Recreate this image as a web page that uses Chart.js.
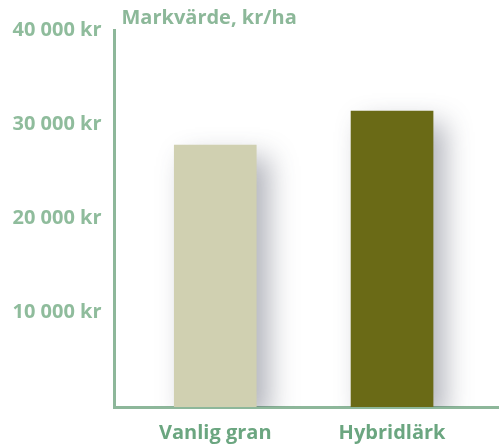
<!DOCTYPE html>
<html>
<head>
<meta charset="utf-8">
<script src="https://cdn.jsdelivr.net/npm/chart.js@4/dist/chart.umd.min.js"></script>
<style>
  body { margin: 0; background: #fff; }
</style>
</head>
<body>
<canvas id="markChart" width="499" height="444"></canvas>
<script>
// data
var categories = ["Vanlig gran", "Hybridlärk"];
var values = [27800, 31400];
var barColors = ["#d0d0b1", "#6a6a16"];
var yTicks = [0, 10000, 20000, 30000, 40000];
var yTitle = "Markvärde, kr/ha";

var axisGreen = "#8db79a";

// skugga till höger om staplarna
var shadowPlugin = {
    id: 'barShadow',
    beforeDatasetsDraw: function(chart){
        var c = chart.ctx;
        c.save();
        c.shadowColor = 'rgba(60,65,85,0.4)';
        c.shadowBlur = 26;
        c.shadowOffsetX = 12;
        c.shadowOffsetY = 12;
    },
    afterDatasetsDraw: function(chart){
        chart.ctx.restore();
    }
};

// rubrik vid y-axeln
var titlePlugin = {
    id: 'axisTitle',
    afterDraw: function(chart){
        var c = chart.ctx;
        c.save();
        c.font = 'bold 20px "Open Sans"';
        c.fillStyle = '#8cb899';
        c.textBaseline = 'middle';
        c.textAlign = 'left';
        c.fillText(yTitle, chart.chartArea.left + 7, 18);
        c.restore();
    }
};

var data = {
    datasets: [{
        data: categories.map(function(c, i){ return {x: i, y: values[i]}; }),
        backgroundColor: barColors,
        barThickness: 82,
        clip: 0
    }]
};

var options = {
    responsive: false,
    animation: false,
    layout: { padding: { top: 30, right: 0, left: 0, bottom: 0 } },
    plugins: { legend: { display: false }, tooltip: { enabled: false } },
    scales: {
        x: {
            type: 'linear',
            offset: false,
            min: -0.57,
            max: 1.605,
            grid: { display: false, drawTicks: false },
            border: { color: axisGreen, width: 3 },
            afterBuildTicks: function(s){
                s.ticks = categories.map(function(c, i){ return {value: i}; });
            },
            afterFit: function(s){ s.height = 37; },
            ticks: {
                padding: 14,
                color: '#6ba680',
                font: { family: 'Open Sans', size: 20, weight: 'bold' },
                callback: function(v){ return categories[v]; }
            }
        },
        y: {
            min: 0,
            max: 40000,
            grid: { display: false, drawTicks: false },
            border: { color: axisGreen, width: 3 },
            afterBuildTicks: function(s){
                s.ticks = yTicks.map(function(v){ return {value: v}; });
            },
            afterFit: function(s){ s.width = 114.5; },
            ticks: {
                padding: 13,
                color: '#8fbc9c',
                font: { family: 'Open Sans', size: 20, weight: 'bold' },
                callback: function(v){
                    if(v === 0) return '';
                    return (v/1000) + ' 000 kr';
                }
            }
        }
    }
};

var ctx = document.getElementById("markChart").getContext("2d");
var markChart = new Chart(ctx, {
    type: 'bar',
    data: data,
    options: options,
    plugins: [shadowPlugin, titlePlugin]
});
</script>
</body>
</html>
